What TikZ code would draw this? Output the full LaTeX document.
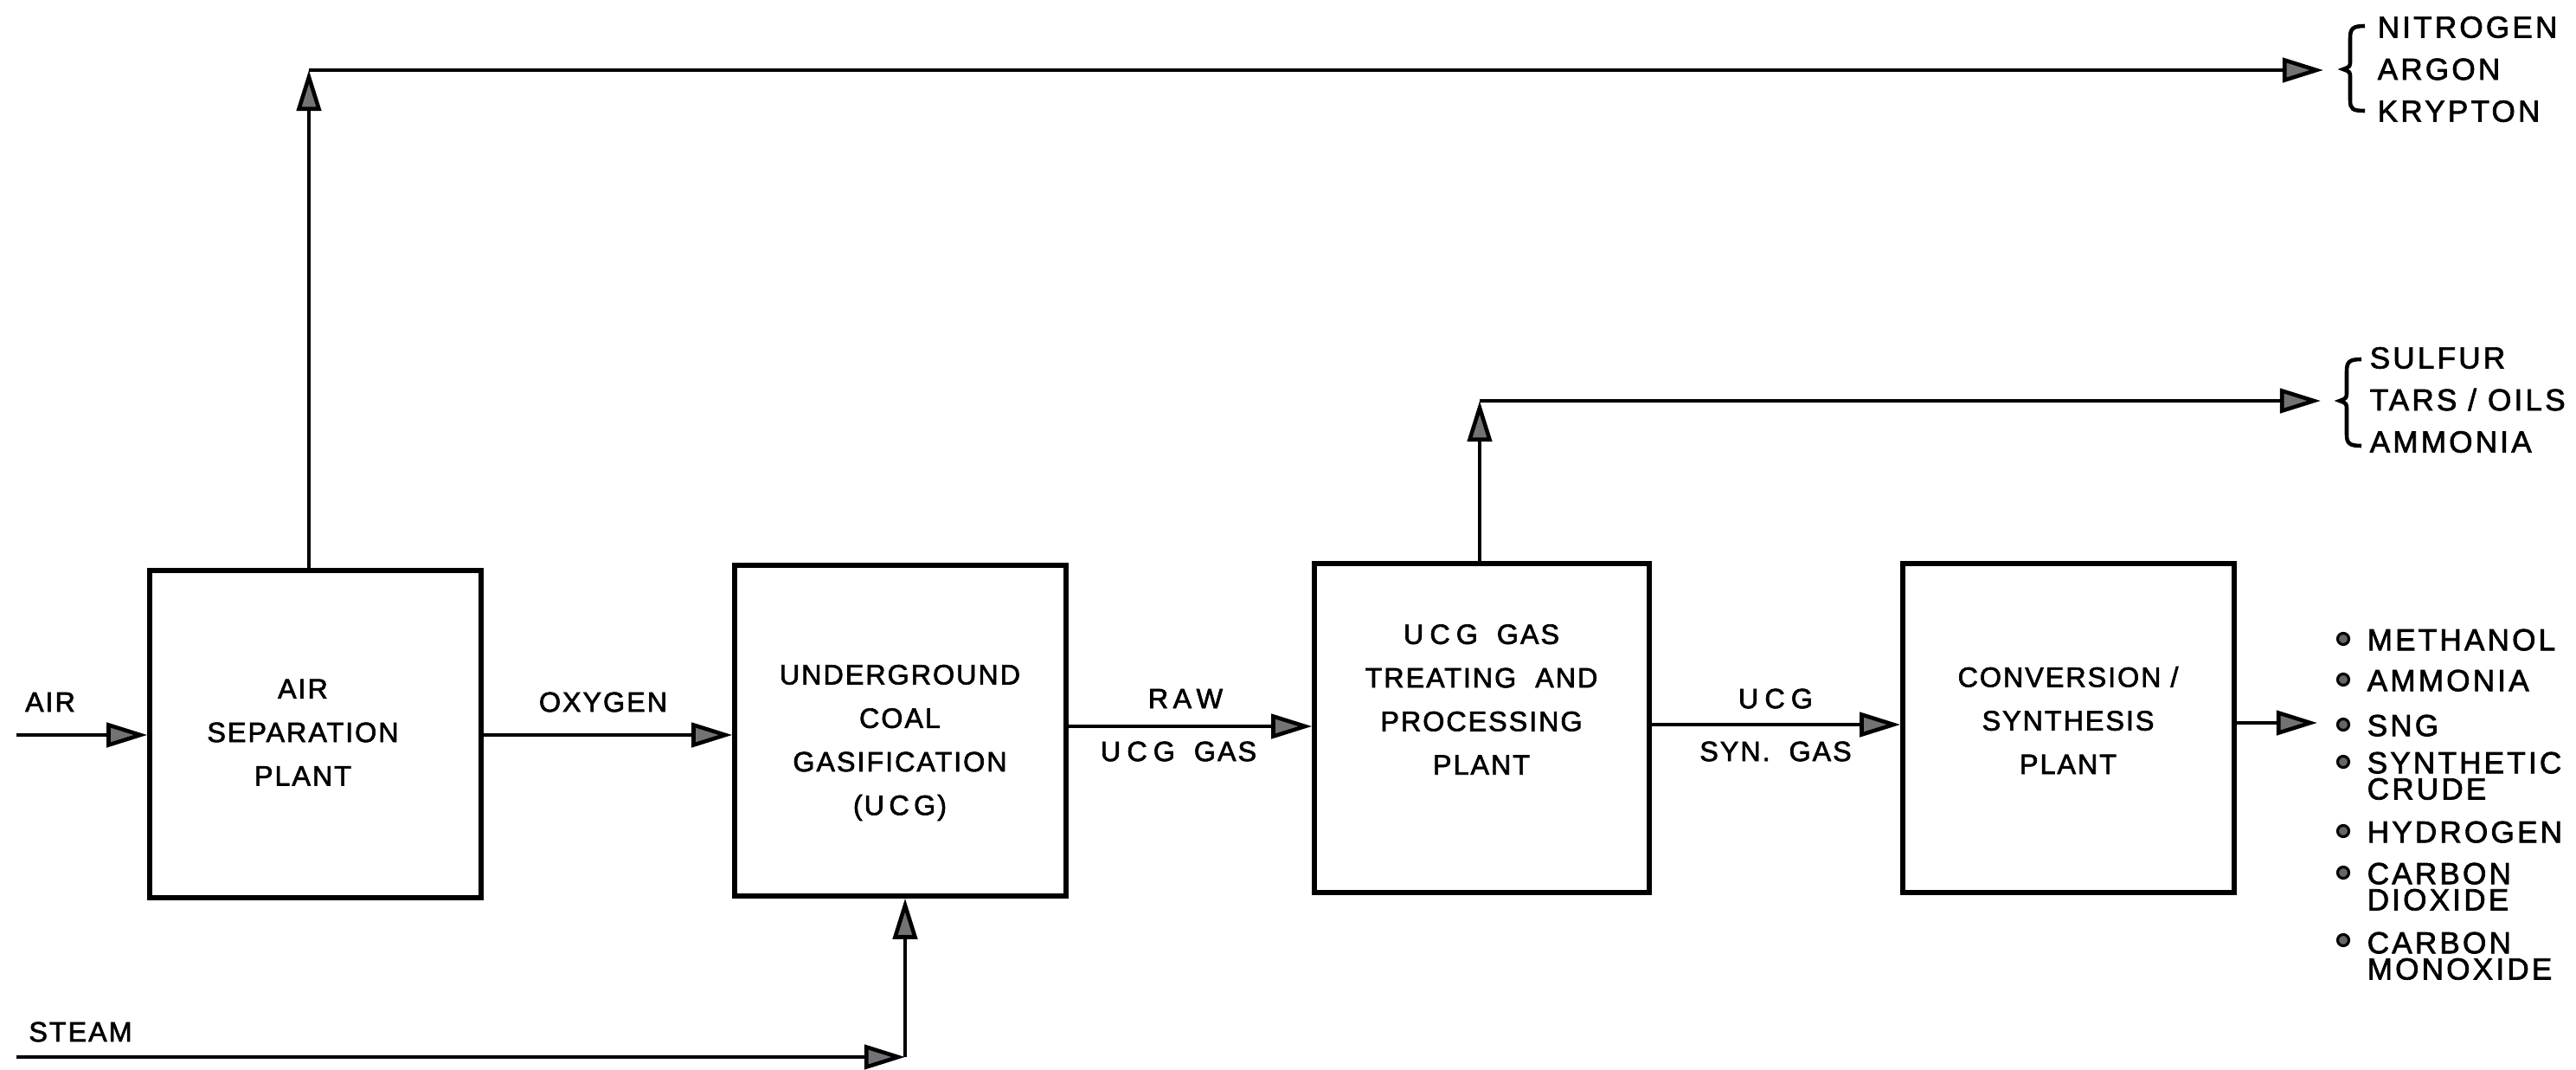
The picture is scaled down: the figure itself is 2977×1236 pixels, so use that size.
\documentclass[tikz,border=0pt]{standalone}
\usepackage{fontspec}
\setmainfont[LetterSpace=6,FakeBold=2]{Liberation Sans}
\usetikzlibrary{arrows.meta}
\begin{document}
\begin{tikzpicture}[x=0.01cm,y=-0.01cm,
  box/.style={draw, line width=1.5pt, minimum width=3.83cm, minimum height=3.8cm, inner sep=0pt},
  lbl/.style={font=\fontsize{9.2}{14.3}\selectfont, align=center, inner sep=0pt},
  listtxt/.style={font=\fontsize{10}{13.8}\selectfont\addfontfeature{LetterSpace=9}, align=left, inner sep=0pt},
  itemtxt/.style={font=\fontsize{10}{8.6}\selectfont\addfontfeature{LetterSpace=9}, align=left, inner sep=0pt, anchor=north west},
  flow/.style={line width=1.3pt, -{Triangle[length=4.7mm,width=2.8mm,fill=black!55]}},
  bracestyle/.style={line width=1.3pt},
  bullet/.style={circle, draw, line width=0.9pt, fill=black!60, minimum size=0.13cm, inner sep=0pt}]
\useasboundingbox (0,0) rectangle (2977,1236);

% process boxes
\node[box, minimum height=3.78cm] (asp) at (364.5,848) {};
\node[box, minimum height=3.82cm] (ucg) at (1040.5,844) {};
\node[box, minimum width=3.87cm] (trt) at (1712.5,841) {};
\node[box] (conv) at (2390.5,841) {};

% box texts
\node[lbl] (asptxt) at (350,846) {AIR\\SEPARATION\\PLANT};
\node[lbl] (ucgtxt) at (1040,858) {UNDERGROUND\\COAL\\GASIFICATION\\(U\,C\,G)};
\node[lbl] (trttxt) at (1712,808) {{\addfontfeature{LetterSpace=22}UCG}\ \ GAS\\TREATING\ \ AND\\PROCESSING\\PLANT};
\node[lbl] (convtxt) at (2390,832) {CONVERSION /\\SYNTHESIS\\PLANT};

% coordinates
\coordinate (airin) at (19,849);
\coordinate (oxy) at (0,849);
\coordinate (raw) at (0,839);
\coordinate (syn) at (0,837);
\coordinate (prod) at (2678,835);
\coordinate (c1) at (357,81);
\coordinate (t1) at (2685,81);
\coordinate (c2) at (1710,463);
\coordinate (t2) at (2682,463);
\coordinate (s0) at (19,1221);
\coordinate (s1) at (1046,1221);

% connectors
\draw[flow] (airin) -- (asp.west |- airin);
\draw[flow] (asp.east |- oxy) -- (ucg.west |- oxy);
\draw[flow] (ucg.east |- raw) -- (trt.west |- raw);
\draw[flow] (trt.east |- syn) -- (conv.west |- syn);
\draw[flow] (conv.east |- prod) -- (prod);
\draw[flow] (asp.north -| c1) -- (c1);
\draw[flow] (c1) -- (t1);
\draw[flow] (trt.north -| c2) -- (c2);
\draw[flow] (c2) -- (t2);
\draw[flow] (s0) -- (s1);
\draw[flow] (s1) -- (ucg.south -| s1);

% connector labels
\node[lbl] (airlbl) at (58,811) {AIR};
\node[lbl] (oxylbl) at (697,811) {OXYGEN};
\node[lbl] (rawlbl) at (1370,807) {R\,A\,W};
\node[lbl] (rawlbl2) at (1362,868) {{\addfontfeature{LetterSpace=22}UCG}\ \ GAS};
\node[lbl] (synlbl) at (2052,807) {{\addfontfeature{LetterSpace=22}UCG}};
\node[lbl] (synlbl2) at (2052,868) {SYN.\ \ GAS};
\node[lbl] (steamlbl) at (93,1192) {STEAM};

% brace group 1
\draw[bracestyle] (2733,30) .. controls (2719,30) and (2716,33) .. (2716,44) -- (2716,70)
  .. controls (2716,77) .. (2708,80) .. controls (2716,83) .. (2716,90) -- (2716,116)
  .. controls (2716,126) and (2719,128) .. (2733,128);
\node[listtxt, anchor=west] (gas1) at (2747,80) {NITROGEN\\ARGON\\KRYPTON};

% brace group 2
\draw[bracestyle] (2729,415) .. controls (2715,415) and (2712,418) .. (2712,429) -- (2712,452)
  .. controls (2712,460) .. (2704,463) .. controls (2712,466) .. (2712,474) -- (2712,502)
  .. controls (2712,512) and (2715,515) .. (2729,515);
\node[listtxt, anchor=west] (gas2) at (2738,462) {SULFUR\\TARS / OILS\\AMMONIA};

% product list
\node[bullet] (b1) at (2708,738) {};
\node[bullet] (b2) at (2708,785) {};
\node[bullet] (b3) at (2708,837) {};
\node[bullet] (b4) at (2708,880) {};
\node[bullet] (b5) at (2708,960) {};
\node[bullet] (b6) at (2708,1008) {};
\node[bullet] (b7) at (2708,1086) {};
\node[itemtxt] (p1) at (2735,726) {METHANOL};
\node[itemtxt] (p2) at (2735,773) {AMMONIA};
\node[itemtxt] (p3) at (2735,825) {SNG};
\node[itemtxt] (p4) at (2735,868) {SYNTHETIC\\CRUDE};
\node[itemtxt] (p5) at (2735,948) {HYDROGEN};
\node[itemtxt] (p6) at (2735,996) {CARBON\\DIOXIDE};
\node[itemtxt] (p7) at (2735,1076) {CARBON\\MONOXIDE};
\end{tikzpicture}
\end{document}
